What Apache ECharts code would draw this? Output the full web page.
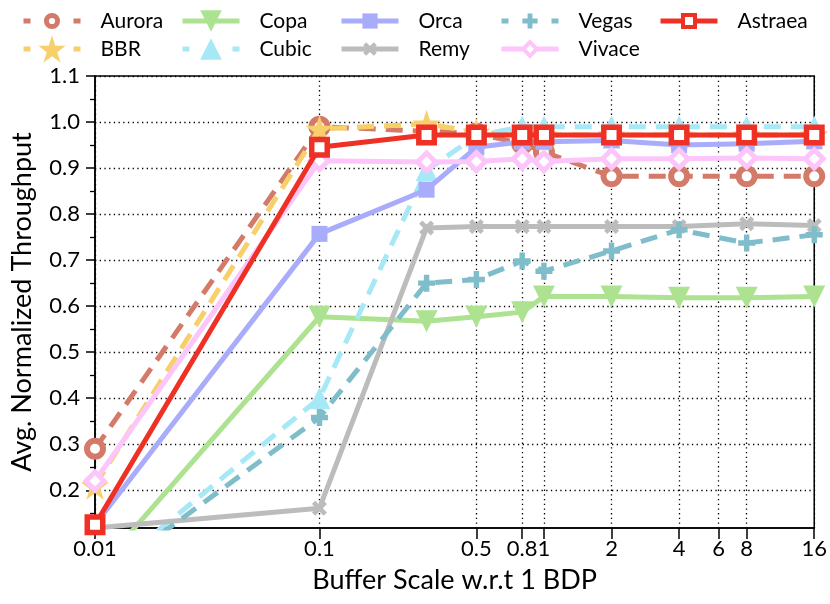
<!DOCTYPE html>
<html>
<head>
<meta charset="utf-8">
<script src="https://cdn.jsdelivr.net/npm/echarts@6/dist/echarts.min.js"></script>
<style>html,body{margin:0;padding:0;background:#fff}#c{width:830px;height:604px}</style>
</head>
<body>
<div id="c"></div>
<script>
// ---- data ----
const bufferScales = [0.01, 0.1, 0.3, 0.5, 0.8, 1, 2, 4, 8, 16];
const xTickValues = [0.01, 0.1, 0.5, 0.8, 1, 2, 4, 6, 8, 16];
const xTickLabels = ['0.01', '0.1', '0.5', '0.8', '1', '2', '4', '6', '8', '16'];
const yTickValues = [0.2, 0.3, 0.4, 0.5, 0.6, 0.7, 0.8, 0.9, 1.0, 1.1];
const yMinorTickValues = [0.15, 0.25, 0.35, 0.45, 0.55, 0.65, 0.75, 0.85, 0.95, 1.05];

const aurora  = [0.29, 0.99, 0.98, 0.975, 0.953, 0.935, 0.882, 0.882, 0.882, 0.882];
const bbr     = [0.21, 0.985, 0.996, 0.978, 0.972, 0.972, 0.972, 0.972, 0.972, 0.972];
const copa    = [0.02, 0.577, 0.567, 0.577, 0.587, 0.621, 0.621, 0.618, 0.618, 0.621];
const cubic   = [0.0, 0.40, 0.895, 0.97, 0.99, 0.99, 0.99, 0.99, 0.99, 0.99];
const orca    = [0.125, 0.757, 0.853, 0.945, 0.957, 0.957, 0.96, 0.95, 0.953, 0.958];
const remy    = [0.118, 0.161, 0.77, 0.773, 0.773, 0.773, 0.773, 0.773, 0.779, 0.775];
const vegas   = [0.0, 0.358, 0.65, 0.658, 0.698, 0.676, 0.72, 0.766, 0.737, 0.755];
const vivace  = [0.22, 0.916, 0.913, 0.914, 0.92, 0.914, 0.92, 0.92, 0.922, 0.92];
const astraea = [0.125, 0.945, 0.972, 0.972, 0.972, 0.972, 0.972, 0.972, 0.972, 0.972];

// ---- styles ----
const STAR = 'path://M50,0 L61.8,35.4 L99,35.4 L69,57.3 L80.4,92.7 L50,70.8 L19.6,92.7 L31,57.3 L1,35.4 L38.2,35.4 Z';
const XMARK = 'path://M0,22 L22,0 L50,28 L78,0 L100,22 L72,50 L100,78 L78,100 L50,72 L22,100 L0,78 L28,50 Z';
const PLUS = 'path://M34,0 H66 V34 H100 V66 H66 V100 H34 V66 H0 V34 H34 Z';
const DOWNTRI = 'path://M0,0 L100,0 L50,88 Z';
const DASH = [17, 10];
const LEGDASH = [7, 43];

const specs = [
  {name:'Aurora', data:aurora, color:'#d47a69', dash:true, symbol:'circle', size:16, fill:'#fff', bw:6, col:0, row:0, lh:14, lbw:5},
  {name:'BBR', data:bbr, color:'#f7cf6b', dash:true, symbol:STAR, size:28, fill:null, bw:0, col:0, row:1, lh:34, lbw:0},
  {name:'Copa', data:copa, color:'#ade291', dash:false, symbol:DOWNTRI, size:22, fill:null, bw:0, col:1, row:0, lh:27, lbw:0},
  {name:'Cubic', data:cubic, color:'#a6e8f6', dash:true, symbol:'triangle', size:22, fill:null, bw:0, col:1, row:1, lh:27, lbw:0},
  {name:'Orca', data:orca, color:'#a9acfa', dash:false, symbol:'rect', size:16, fill:null, bw:0, col:2, row:0, lh:19, lbw:0},
  {name:'Remy', data:remy, color:'#bcbcbc', dash:false, symbol:XMARK, size:15, fill:null, bw:0, col:2, row:1, lh:17, lbw:0},
  {name:'Vegas', data:vegas, color:'#7fbdcb', dash:true, symbol:PLUS, size:17, fill:null, bw:0, col:3, row:0, lh:19, lbw:0},
  {name:'Vivace', data:vivace, color:'#fdc6fb', dash:false, symbol:'diamond', size:18, fill:'#fff', bw:5, col:3, row:1, lh:17, lbw:4},
  {name:'Astraea', data:astraea, color:'#ee3124', dash:false, symbol:'rect', size:15.5, fill:'#fff', bw:5.5, col:4, row:0, lh:15, lbw:4}
];

const lg = x => Math.log10(x);
const colX = [21, 180, 339, 499, 658];
const rowY = [21, 49];
const LEG_LH = 36;

const series = specs.map((s, i) => ({
  name: s.name,
  type: 'line',
  data: bufferScales.map((x, k) => [lg(x), s.data[k]]),
  symbol: s.symbol,
  symbolSize: s.size,
  showSymbol: true,
  z: 2 + i,
  lineStyle: {color: s.color, width: 5, type: s.dash ? DASH : 'solid'},
  itemStyle: {color: s.fill || s.color, borderColor: s.color, borderWidth: s.bw},
  emphasis: {disabled: true},
  clip: true
}));

const legends = specs.map(s => ({
  data: [s.name],
  left: colX[s.col],
  top: rowY[s.row] - LEG_LH / 2,
  padding: 0,
  itemWidth: 57,
  itemHeight: s.lh,
  selectedMode: false,
  textStyle: {fontFamily: 'Lato', fontSize: 21, lineHeight: LEG_LH, color: '#000', padding: [0, 0, 0, 15]},
  lineStyle: {color: s.color, width: 5, type: s.dash ? LEGDASH : 'solid'},
  itemStyle: {color: s.fill || s.color, borderColor: s.color, borderWidth: s.lbw}
}));

const FONT = 'Lato';
const option = {
  animation: false,
  backgroundColor: '#fff',
  legend: legends,
  grid: {left: 95, right: 15, top: 76, bottom: 76, show: true, borderColor: '#000', borderWidth: 1.5, containLabel: false},
  xAxis: {
    type: 'value',
    min: lg(0.01),
    max: lg(16),
    name: 'Buffer Scale w.r.t 1 BDP',
    nameLocation: 'middle',
    nameGap: 39,
    nameTextStyle: {fontFamily: FONT, fontSize: 27, color: '#000'},
    axisLine: {show: true, onZero: false, lineStyle: {color: '#000', width: 1.5}},
    axisTick: {show: true, length: 11, lineStyle: {color: '#000', width: 1.5}, customValues: xTickValues.map(lg)},
    axisLabel: {
      customValues: xTickValues.map(lg),
      fontFamily: FONT, fontSize: 22, color: '#000', margin: 10,
      formatter: v => {
        let best = 0, bd = 1e9;
        xTickValues.forEach((t, i) => { const d = Math.abs(lg(t) - v); if (d < bd) { bd = d; best = i; } });
        return xTickLabels[best];
      }
    },
    splitLine: {show: true, lineStyle: {color: '#000', width: 1.3, type: [1.3, 3.4]}}
  },
  yAxis: [{
    type: 'value',
    min: 0.118,
    max: 1.1,
    name: 'Avg. Normalized Throughput',
    nameLocation: 'middle',
    nameGap: 59,
    nameTextStyle: {fontFamily: FONT, fontSize: 27, color: '#000'},
    axisLine: {show: true, onZero: false, lineStyle: {color: '#000', width: 1.5}},
    axisTick: {show: true, length: 9, lineStyle: {color: '#000', width: 1.5}, customValues: yTickValues},
    axisLabel: {customValues: yTickValues, fontFamily: FONT, fontSize: 22, color: '#000', margin: 15,
      formatter: v => v.toFixed(1)},
    splitLine: {show: true, lineStyle: {color: '#000', width: 1.3, type: [1.3, 3.4]}}
  }, {
    type: 'value',
    min: 0.118,
    max: 1.1,
    position: 'left',
    offset: 0,
    axisLine: {show: false, onZero: false},
    axisTick: {show: true, length: 5, lineStyle: {color: '#000', width: 1.3}, customValues: yMinorTickValues},
    axisLabel: {show: false, customValues: yMinorTickValues},
    splitLine: {show: false}
  }],
  series: series
};

const chart = echarts.init(document.getElementById('c'), null, {renderer: 'canvas'});
chart.setOption(option);
</script>
</body>
</html>
